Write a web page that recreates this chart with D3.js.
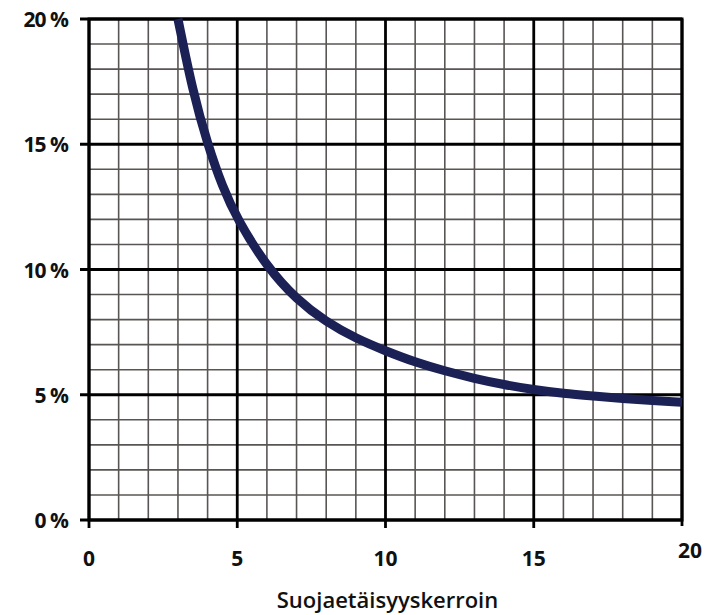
<!DOCTYPE html>
<html>
<head>
<meta charset="utf-8">
<script src="https://cdn.jsdelivr.net/npm/d3@7"></script>
<style>
  body { margin: 0; background: #fff; }
  svg text { font-family: "Open Sans", "DejaVu Sans", sans-serif; fill: #111; }
</style>
</head>
<body>
<div class="chart"></div>
<script>
// curve: x = factor, y = percent
var factorValues = [3, 3.5, 4, 4.5, 5, 6, 7, 8, 9, 10, 11, 12, 13, 14, 15, 16, 17, 18, 19, 20];
var percentValues = [20, 17.1, 15.0, 13.3, 12.0, 10.1, 8.8, 7.9, 7.25, 6.75, 6.3, 5.95, 5.65, 5.4, 5.2, 5.05, 4.95, 4.85, 4.77, 4.7];
var xTicks = [0, 5, 10, 15, 20];
var yTicks = [0, 5, 10, 15, 20];
var xTitle = "Suojaetäisyyskerroin";

var width = 705, height = 615;
var margin = {left: 89, right: 23, top: 19, bottom: 95};
var w = width - margin.left - margin.right;
var h = height - margin.top - margin.bottom;

var svg = d3.select("body div.chart").append("svg").attr("width", width).attr("height", height);
var chartGroup = svg.append("g").attr("transform", "translate(" + margin.left + "," + margin.top + ")");

var x = d3.scaleLinear().domain([0, 20]).range([0, w]);
var y = d3.scaleLinear().domain([0, 20]).range([h, 0]);

var minor = d3.range(0, 21, 1);

// minor grid
chartGroup.selectAll("line.vminor")
    .data(minor.filter(function(d) { return d % 5 != 0; }))
    .enter().append("line")
        .attr("x1", function(d) { return x(d); })
        .attr("x2", function(d) { return x(d); })
        .attr("y1", 0).attr("y2", h)
        .attr("stroke", "#5a5555").attr("stroke-width", 1.6);

chartGroup.selectAll("line.hminor")
    .data(minor.filter(function(d) { return d % 5 != 0; }))
    .enter().append("line")
        .attr("y1", function(d) { return y(d); })
        .attr("y2", function(d) { return y(d); })
        .attr("x1", 0).attr("x2", w)
        .attr("stroke", "#5a5555").attr("stroke-width", 1.6);

// major grid, ticks stick out past the frame
chartGroup.selectAll("line.vmajor")
    .data(xTicks)
    .enter().append("line")
        .attr("x1", function(d) { return x(d); })
        .attr("x2", function(d) { return x(d); })
        .attr("y1", 0).attr("y2", function(d) { return d == 20 ? h + 6 : h + 8; })
        .attr("stroke", "#000").attr("stroke-width", 2.8);

chartGroup.selectAll("line.hmajor")
    .data(yTicks)
    .enter().append("line")
        .attr("y1", function(d) { return y(d); })
        .attr("y2", function(d) { return y(d); })
        .attr("x1", -9).attr("x2", w)
        .attr("stroke", "#000").attr("stroke-width", 2.8);

chartGroup.append("rect")
    .attr("x", 0).attr("y", 0).attr("width", w).attr("height", h)
    .attr("fill", "none").attr("stroke", "#000").attr("stroke-width", 3);

// tick labels
chartGroup.selectAll("text.ylab")
    .data(yTicks)
    .enter().append("text")
        .attr("x", -21)
        .attr("y", function(d) { return y(d) + 8; })
        .attr("text-anchor", "end")
        .attr("font-size", "21px")
        .attr("font-weight", "bold")
        .attr("letter-spacing", "-1px")
        .text(function(d) { return d + " %"; });

chartGroup.selectAll("text.xlab")
    .data(xTicks)
    .enter().append("text")
        .attr("x", function(d) { return x(d) + (d == 20 ? 8 : 0); })
        .attr("y", function(d) { return d == 20 ? h + 38 : h + 46; })
        .attr("text-anchor", "middle")
        .attr("font-size", "21px")
        .attr("font-weight", "bold")
        .text(function(d) { return d; });

chartGroup.append("text")
    .attr("x", w / 2 + 2)
    .attr("y", h + 88)
    .attr("text-anchor", "middle")
    .attr("font-size", "22px")
    .attr("font-weight", "600")
    .text(xTitle);

// the curve
var lineData = factorValues.map(function(d, i) { return {x: d, y: percentValues[i]}; });
var line = d3.line()
    .x(function(d) { return x(d.x); })
    .y(function(d) { return y(d.y); })
    .curve(d3.curveBasis);

chartGroup.append("path")
    .attr("d", line(lineData))
    .attr("fill", "none")
    .attr("stroke", "#1b2155")
    .attr("stroke-width", 9)
    .attr("stroke-linecap", "butt");
</script>
</body>
</html>
